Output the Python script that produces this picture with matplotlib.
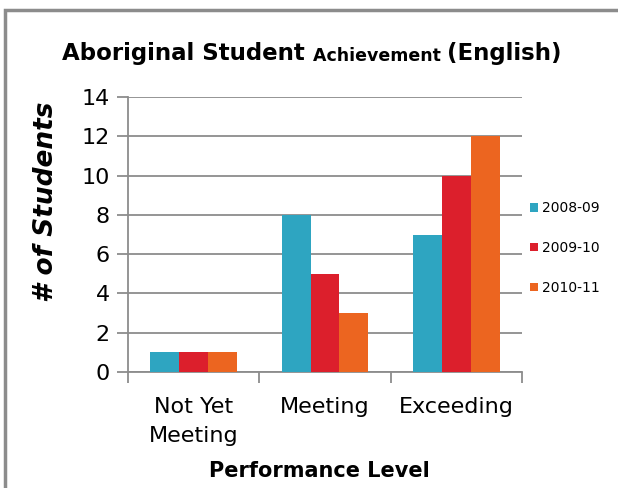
import numpy as np
import matplotlib.pyplot as plt
from matplotlib.patches import Rectangle

# data
categories = ["Not Yet\nMeeting", "Meeting", "Exceeding"]
series_names = ["2008-09", "2009-10", "2010-11"]
values_0809 = [1, 8, 7]
values_0910 = [1, 5, 10]
values_1011 = [1, 3, 12]
colors = ["#2EA5C1", "#DC1F2C", "#EC6520"]
GRID = "#8c8c8c"

W, H = 618, 488
fig = plt.figure(figsize=(W / 100, H / 100), dpi=100)
ax = fig.add_axes([128 / W, 1 - 372 / H, (522 - 128) / W, (372 - 97) / H])

x = np.arange(len(categories))
bw = 0.22
for i, (vals, name, c) in enumerate(zip([values_0809, values_0910, values_1011],
                                        series_names, colors)):
    ax.bar(x + (i - 1) * bw, vals, width=bw, color=c, label=name, zorder=3)

ax.set_xlim(-0.5, 2.5)
ax.set_ylim(0, 14)
ax.set_yticks(range(0, 15, 2))
ax.grid(axis="y", color=GRID, lw=1.3, zorder=0)
for s in ["top", "right"]:
    ax.spines[s].set_visible(False)
for s in ["left", "bottom"]:
    ax.spines[s].set_color(GRID)
    ax.spines[s].set_linewidth(1.3)

# category labels centred in groups, ticks on group boundaries
ax.set_xticks(x)
ax.set_xticklabels(categories, fontsize=16, linespacing=1.55)
ax.set_xticks([-0.5, 0.5, 1.5, 2.5], minor=True)
ax.tick_params(axis="x", which="major", length=0, pad=18)
ax.tick_params(axis="x", which="minor", length=8, width=1.3, color=GRID)
ax.tick_params(axis="y", length=8, width=1.3, color=GRID, labelsize=16, pad=5)

fig.text(319 / W, 1 - 477 / H, "Performance Level", fontsize=15,
         fontweight="bold", ha="center", va="baseline")
fig.text(46 / W, 1 - 202 / H, "# of Students", fontsize=19, fontweight="bold",
         style="italic", rotation=90, ha="center", va="center")

ax.legend(loc="center left", bbox_to_anchor=(530 / W, 1 - 248 / H),
          bbox_transform=fig.transFigure, frameon=False,
          fontsize=10, handlelength=0.55, handleheight=0.55, handletextpad=0.3,
          labelspacing=1.85, borderaxespad=0, borderpad=0)

# title with mixed sizes
t1 = fig.text(62 / W, 1 - 60 / H, "Aboriginal Student ", fontsize=16.5,
              fontweight="bold", va="baseline", ha="left")
t2 = ax.annotate("Achievement ", xy=(1, 0), xycoords=t1, fontsize=12.5,
                 fontweight="bold", va="bottom", ha="left", annotation_clip=False)
t3 = ax.annotate("(English)", xy=(1, 0), xycoords=t2, fontsize=16.5,
                 fontweight="bold", va="bottom", ha="left", annotation_clip=False)

# outer frame
fig.patches.append(Rectangle((5 / W, -0.1), 1.2, 1.1 - 10 / H, transform=fig.transFigure,
                             fill=False, edgecolor=GRID, lw=2.5))

fig.savefig("out.png", dpi=100)
